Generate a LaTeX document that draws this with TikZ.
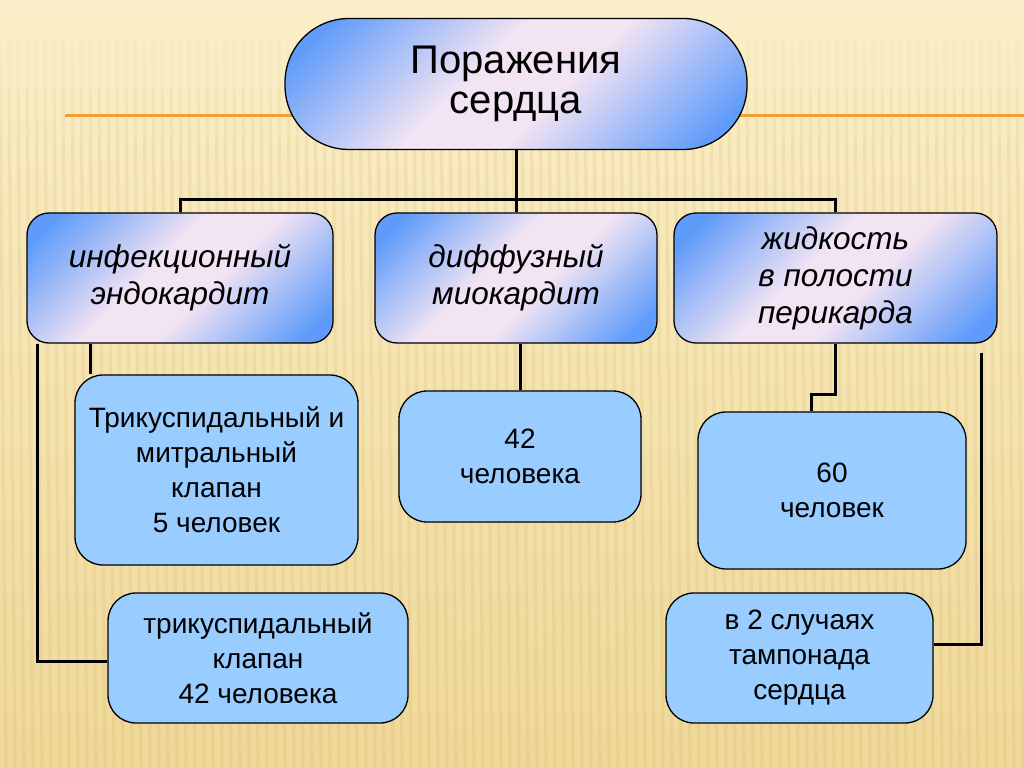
\documentclass[tikz,border=0pt]{standalone}
\usepackage{fontspec}
\setmainfont{Liberation Sans}
\usepackage{xcolor}
\usepackage{tikz}
\usetikzlibrary{positioning,calc}
\definecolor{bgtop}{HTML}{FAEFC9}
\definecolor{bgbot}{HTML}{EFD898}
\definecolor{stripe}{HTML}{D9B86A}
\definecolor{accent}{HTML}{F0A030}
\definecolor{boxblue}{HTML}{5F9BFA}
\definecolor{boxpink}{HTML}{F3E4F3}
\definecolor{lightblue}{HTML}{99CCFF}
\pgfdeclareverticalshading{boxshade}{100bp}{color(0bp)=(boxblue); color(20bp)=(boxblue);
  color(44bp)=(boxpink); color(56bp)=(boxpink); color(80bp)=(boxblue); color(100bp)=(boxblue)}

\begin{document}
\begin{tikzpicture}[x=1pt,y=1pt,
  topbox/.style={draw, line width=1.3pt, rounded corners=64pt, minimum width=462pt, minimum height=131pt,
    shading=boxshade, shading angle=45,
    align=center, font=\fontsize{40}{40}\selectfont},
  midbox/.style={draw, line width=1.3pt, rounded corners=22pt, minimum height=130pt,
    shading=boxshade, shading angle=45,
    align=center, font=\fontsize{31.5}{37}\selectfont\itshape},
  lowbox/.style={draw, line width=1.3pt, rounded corners=28pt, fill=lightblue,
    align=center, font=\fontsize{28}{35}\selectfont},
  conn/.style={line width=3pt, black}]
  \useasboundingbox (0,0) rectangle (1024,-767);
  \clip (0,0) rectangle (1024,-767);
  % Background
  \shade[top color=bgtop, bottom color=bgbot] (0,0) rectangle (1024,-767);
  \foreach \y in {40,90,140}
    \foreach \x in {0,9,...,1030}
      \draw[stripe, line width=3pt, opacity=0.07] (\x,-\y) -- (\x+6,-767);
  \draw[accent, line width=3pt] (65,-116) -- (1024,-116);
  % Top node
  \node[topbox] (top) at (516,-84) {Поражения\\сердца};
  % Second row
  \node[midbox, minimum width=306pt] (infect) at (180,-278) {инфекционный\\эндокардит};
  \node[midbox, minimum width=282pt] (diff) at (516,-278) {диффузный\\миокардит};
  \node[midbox, minimum width=323pt] (peri) at (835.5,-278) {жидкость\\в полости\\перикарда};
  % Third row
  \node[lowbox, minimum width=283pt, minimum height=190pt] (tmk) at (216.5,-470) {Трикуспидальный и\\митральный\\клапан\\5 человек};
  \node[lowbox, minimum width=300pt, minimum height=130pt] (tk) at (258,-658) {трикуспидальный\\клапан\\42 человека};
  \node[lowbox, minimum width=242pt, minimum height=131pt] (n42) at (520,-456.5) {42\\человека};
  \node[lowbox, minimum width=268pt, minimum height=157pt] (n60) at (832,-490.5) {60\\человек};
  \node[lowbox, minimum width=267pt, minimum height=130pt] (tamp) at (799.5,-658) {в 2 случаях\\тампонада\\сердца};
  % Connectors
  \draw[conn] (top.south) -- (diff.north);
  \draw[conn] (infect.north) |- (top.south |- 0,-200) -| (peri.north);
  \draw[conn] ([xshift=-90]infect.south) -- ([xshift=-90]infect.south |- tmk.north);
  \draw[conn] ([xshift=-143]infect.south) |- ([yshift=-3]tk.west);
  \draw[conn] (n42.north |- diff.south) -- (n42.north);
  \draw[conn] (peri.south) -- ++(0,-51) -| ([xshift=-21]n60.north);
  \draw[conn] ([xshift=146,yshift=-9]peri.south) |- ([yshift=14]tamp.east);
\end{tikzpicture}
\end{document}
